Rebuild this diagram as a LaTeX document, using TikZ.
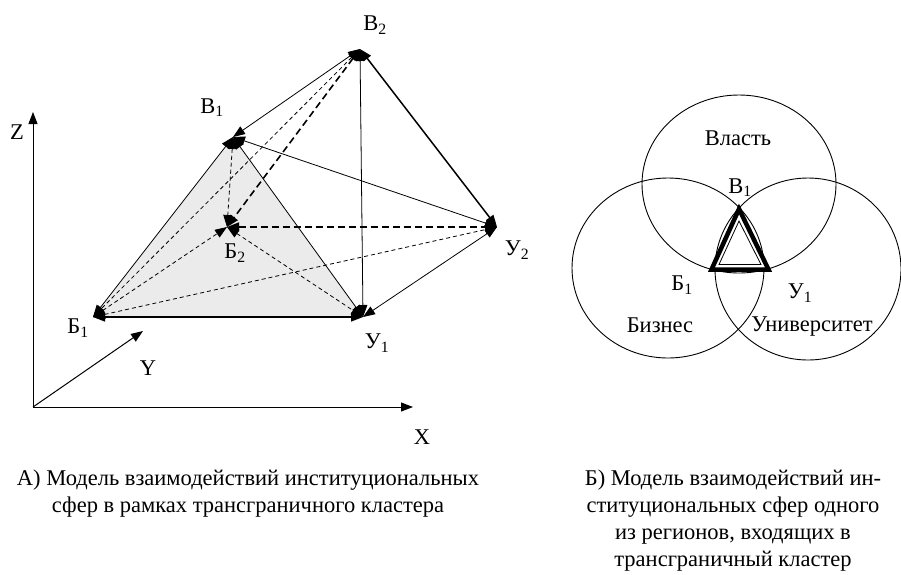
\documentclass[tikz,border=0pt]{standalone}
\usepackage{fontspec}
\setmainfont{Liberation Serif}
\usetikzlibrary{arrows.meta}

\begin{document}
\begin{tikzpicture}[
    x=1pt, y=-1pt,
    font=\fontsize{22.5}{27}\selectfont,
    edge/.style={{Triangle[length=12pt,width=9pt]}-{Triangle[length=12pt,width=9pt]},
                 line width=0.8pt},
    heavy/.style={edge, line width=1.5pt},
    dedge/.style={edge, dash pattern=on 4pt off 3pt},
    hdedge/.style={edge, line width=1.6pt, dash pattern=on 7pt off 4pt},
    axis/.style={-{Triangle[length=12pt,width=9pt]}, line width=1pt},
    lbl/.style={inner sep=0pt},
    sphere/.style={draw, line width=0.9pt},
    caption/.style={align=center, anchor=north, inner sep=0pt},
]
\useasboundingbox (0,0) rectangle (901,574);

% ---- axes ----
\coordinate (o) at (33,407);
\coordinate (zend) at (33,112);
\coordinate (xend) at (413,407);
\coordinate (yend) at (143,331);
\draw[axis] (o) -- (zend);
\draw[axis] (o) -- (xend);
\draw[axis] (o) -- (yend);
\node[lbl] (zlab) at (17,132) {Z};
\node[lbl] (xlab) at (422,437) {X};
\node[lbl] (ylab) at (148,368) {Y};

% ---- vertices of the two triangles ----
\coordinate (v1) at (233,137);
\coordinate (b1) at (93,317);
\coordinate (u1) at (363,317);
\coordinate (v2) at (360,49);
\coordinate (b2) at (227,227);
\coordinate (u2) at (497,227);

\fill[black!8] (v1) -- (b1) -- (u1) -- cycle;

% ---- solid links ----
\draw[edge]  (v1) -- (b1);
\draw[edge]  (v1) -- (u1);
\draw[heavy] (b1) -- (u1);
\draw[edge]  (v1) -- (v2);
\draw[edge]  (v1) -- (u2);
\draw[edge]  (v2) -- (u1);
\draw[heavy] (v2) -- (u2);
\draw[edge]  (u2) -- (u1);

% ---- dashed links ----
\draw[dedge]  (v2) -- (b1);
\draw[dedge]  (v1) -- (b2);
\draw[dedge]  (b1) -- (b2);
\draw[dedge]  (b1) -- (u2);
\draw[dedge]  (b2) -- (u1);
\draw[hdedge] (v2) -- (b2);
\draw[hdedge] (b2) -- (u2);

% ---- vertex labels ----
\node[lbl] (v1lab) at (212,108) {В\textsubscript{1}};
\node[lbl] (v2lab) at (375,25)  {В\textsubscript{2}};
\node[lbl] (b1lab) at (78,328)  {Б\textsubscript{1}};
\node[lbl] (u1lab) at (377,343) {У\textsubscript{1}};
\node[lbl] (b2lab) at (235,253) {Б\textsubscript{2}};
\node[lbl] (u2lab) at (517,250) {У\textsubscript{2}};

% ---- spheres (right) ----
\draw[sphere] (739,184) ellipse [x radius=97, y radius=89];
\draw[sphere] (668,268) ellipse [x radius=96, y radius=90];
\draw[sphere] (808,269) ellipse [x radius=93, y radius=91];

\coordinate (tv) at (739,209);
\coordinate (tb) at (711.5,269.5);
\coordinate (tu) at (768.5,269.5);
\draw[line width=4.5pt, line join=miter, fill=white] (tv) -- (tb) -- (tu) -- cycle;
\draw[line width=0.8pt] (739,221) -- (719,264.5) -- (761,264.5) -- cycle;

\node[lbl] (vlast) at (738,138) {Власть};
\node[lbl] (rv1)   at (740,188) {В\textsubscript{1}};
\node[lbl] (rb1)   at (682,285) {Б\textsubscript{1}};
\node[lbl] (ru1)   at (800,293) {У\textsubscript{1}};
\node[lbl] (biz)   at (660,325) {Бизнес};
\node[lbl] (univ)  at (812,327) {Университет};

% ---- captions ----
\node[caption] (capa) at (248,470)
    {А) Модель взаимодействий институциональных\\ сфер в рамках трансграничного кластера};
\node[caption] (capb) at (733,470)
    {Б) Модель взаимодействий ин-\\ ституциональных сфер одного\\ из регионов, входящих в\\ трансграничный кластер};

\end{tikzpicture}
\end{document}
